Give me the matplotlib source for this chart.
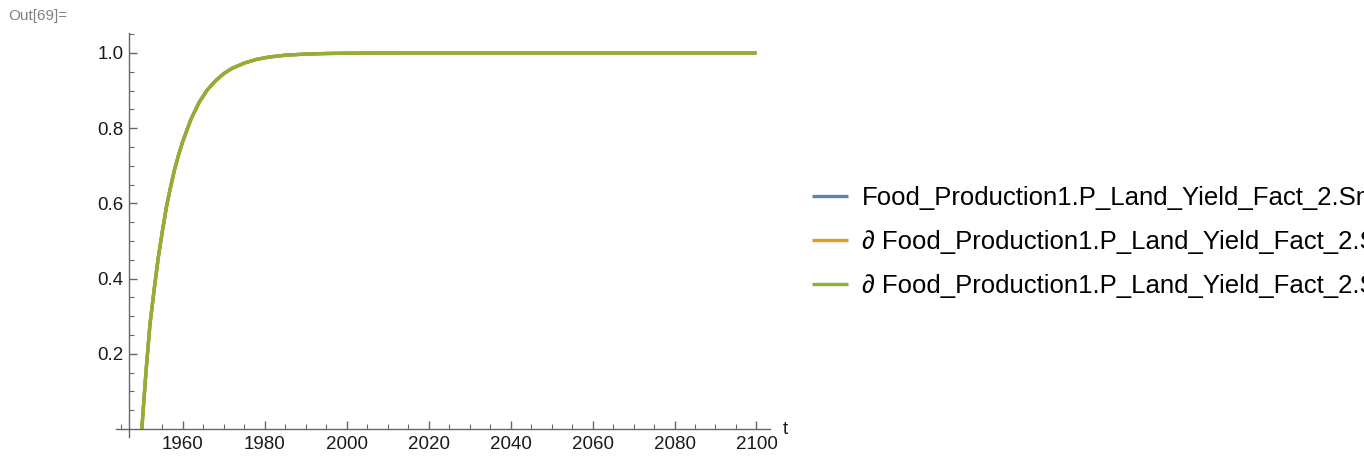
import matplotlib
matplotlib.use("Agg")
import matplotlib.pyplot as plt
from matplotlib.ticker import FixedLocator

plt.rcParams["font.family"] = ["Liberation Sans", "DejaVu Sans"]

# simulated trajectory (all three outputs coincide)
years = [1950, 1951, 1952, 1953, 1954, 1955, 1956, 1957, 1958, 1959, 1960,
         1962, 1964, 1966, 1968, 1970, 1972, 1975, 1978, 1981, 1985, 1990,
         1995, 2000, 2010, 2020, 2050, 2100]
yield_fact = [0.0, 0.15, 0.28, 0.37, 0.455, 0.525, 0.59, 0.643, 0.69, 0.73,
              0.765, 0.824, 0.869, 0.902, 0.926, 0.945, 0.959, 0.973, 0.983,
              0.989, 0.994, 0.997, 0.9985, 0.9993, 0.9999, 1.0, 1.0, 1.0]

labels = [
    "Food_Production1.P_Land_Yield_Fact_2.SmoothOut",
    "\u2202 Food_Production1.P_Land_Yield_Fact_2.SmoothOut",
    "\u2202 Food_Production1.P_Land_Yield_Fact_2.SmoothOut",
]
colors = ["#5E81B5", "#E19C24", "#8FB032"]

W, H = 1364, 459
fig = plt.figure(figsize=(W / 100, H / 100), dpi=100)
ax = fig.add_axes([116 / W, (H - 437) / H, (770 - 116) / W, (437 - 33) / H])
ax.set_xlim(1943.7, 2103.3)
ax.set_ylim(-0.021, 1.053)

for lab, c in zip(labels, colors):
    ax.plot(years, yield_fact, color=c, lw=2.4, label=lab, solid_capstyle="butt")

axis_col = "#666666"
for s in ["top", "right"]:
    ax.spines[s].set_visible(False)
ax.spines["left"].set_position(("data", 1946.9))
ax.spines["bottom"].set_position(("data", 0))
for s in ["left", "bottom"]:
    ax.spines[s].set_color(axis_col)
    ax.spines[s].set_linewidth(1.0)

ax.xaxis.set_major_locator(FixedLocator(range(1960, 2101, 20)))
ax.xaxis.set_minor_locator(FixedLocator(range(1945, 2101, 5)))
ax.yaxis.set_major_locator(FixedLocator([0.2, 0.4, 0.6, 0.8, 1.0]))
ax.yaxis.set_minor_locator(FixedLocator([i * 0.05 for i in range(1, 22)]))
ax.yaxis.set_major_formatter(plt.FuncFormatter(lambda v, p: f"{v:.1f}"))

ax.tick_params(axis="both", which="major", direction="in", length=6,
               width=1.0, color=axis_col, labelsize=13.5, labelcolor="#1a1a1a")
ax.tick_params(axis="both", which="minor", direction="in", length=3.5,
               width=0.8, color=axis_col)
ax.tick_params(axis="x", pad=5)
ax.tick_params(axis="y", pad=4)

ax.text(2106.5, 0, "t", fontsize=13.5, color="#1a1a1a", va="center", ha="left")

fig.text(8 / W, 1 - 16 / H, "Out[69]=", fontsize=11, color="#808080",
         va="center", ha="left")

fig.legend(loc="center left", bbox_to_anchor=(812 / W, 1 - 242 / H),
           frameon=False, fontsize=18.5, handlelength=1.4, handletextpad=0.55,
           labelspacing=0.78, borderaxespad=0, borderpad=0)

fig.savefig("out.png", dpi=100)
